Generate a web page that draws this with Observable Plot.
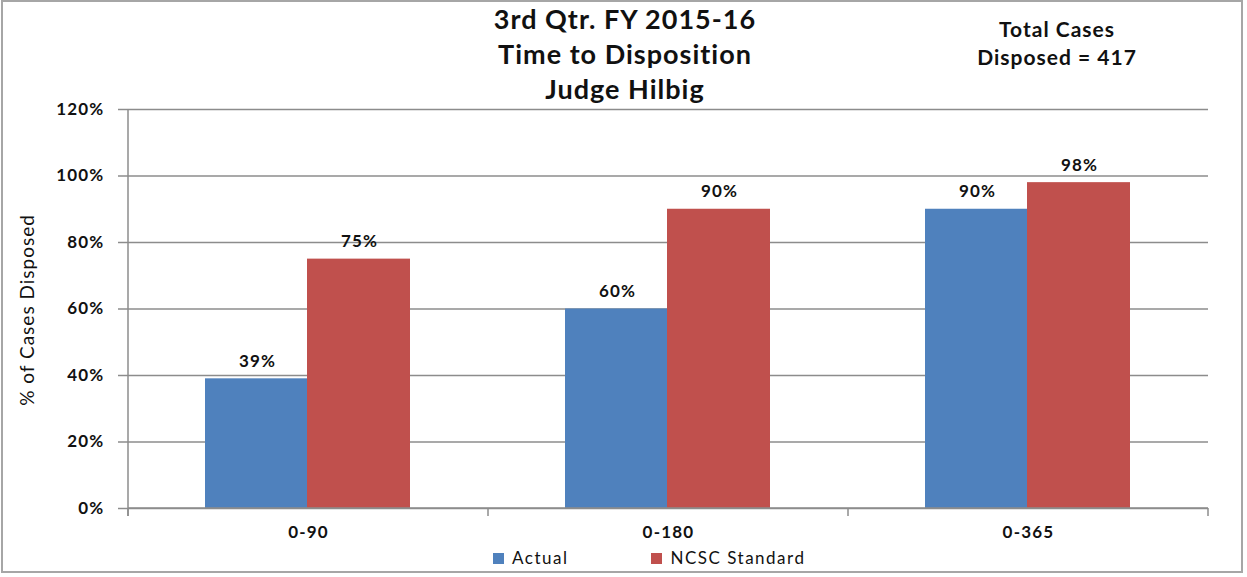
<!DOCTYPE html>
<html><head><meta charset="utf-8">
<script src="https://cdn.jsdelivr.net/npm/d3@7"></script>
<script src="https://cdn.jsdelivr.net/npm/@observablehq/plot@0.6"></script>
<style>
body{margin:0;background:#fff;}
#wrap{position:relative;width:1247px;height:577px;overflow:hidden;font-family:Lato,"Open Sans",sans-serif;color:#111;background:#fff;}
#chart{position:absolute;left:0;top:0;}
#chart text{letter-spacing:1.2px;}
#border{position:absolute;left:1px;top:0px;width:1242px;height:573px;border:2px solid #a6a6a6;box-sizing:border-box;pointer-events:none;}
#title{position:absolute;left:425px;width:400px;top:1px;text-align:center;font-weight:bold;font-size:27px;line-height:35px;letter-spacing:1px;}
#total{position:absolute;left:957px;width:200px;top:15px;text-align:center;font-weight:bold;font-size:21px;line-height:28px;letter-spacing:1px;}
#ytitle{position:absolute;left:26px;top:310px;transform:translate(-50%,-50%) rotate(-90deg);white-space:nowrap;font-size:19px;letter-spacing:1px;}
#legend{position:absolute;left:493px;top:546px;display:flex;gap:83px;font-size:17px;line-height:24px;letter-spacing:1.5px;}
#legend .item{display:flex;align-items:center;}
#legend .sw{width:11px;height:11px;margin-right:8px;}
</style></head><body>
<div id="wrap">
 <div id="chart"></div>
 <div id="title">3rd Qtr. FY 2015-16<br>Time to Disposition<br>Judge Hilbig</div>
 <div id="total">Total Cases<br>Disposed = 417</div>
 <div id="ytitle">% of Cases Disposed</div>
 <div id="legend"></div>
 <div id="border"></div>
</div>
<script>
const categories = ["0-90", "0-180", "0-365"];
const seriesNames = ["Actual", "NCSC Standard"];
const actual = [39, 60, 90];
const ncscStandard = [75, 90, 98];
const yTicks = [0, 20, 40, 60, 80, 100, 120];
const seriesColors = ["#4f81bd", "#c0504d"];

const rowsActual = categories.map((c, i) => ({category: c, series: seriesNames[0], value: actual[i]}));
const rowsNcsc = categories.map((c, i) => ({category: c, series: seriesNames[1], value: ncscStandard[i]}));

const gridColor = "#8c8c8c";

const axisLines = (index, scales, values, dims) => {
  const x = scales.x, y = scales.y;
  const step = x(categories[1]) - x(categories[0]);
  const bounds = categories.map(c => x(c)).concat([x(categories[categories.length - 1]) + step]);
  const g = d3.create("svg:g").attr("stroke", gridColor).attr("stroke-width", 1.5).attr("fill", "none");
  const x0 = bounds[0], x1 = bounds[bounds.length - 1];
  g.append("line").attr("x1", x0).attr("x2", x0).attr("y1", y(yTicks[yTicks.length - 1])).attr("y2", y(0) + 8);
  g.append("line").attr("x1", x0).attr("x2", x1).attr("y1", y(0)).attr("y2", y(0));
  for (const b of bounds) g.append("line").attr("x1", b).attr("x2", b).attr("y1", y(0)).attr("y2", y(0) + 8);
  return g.node();
};

const chart = Plot.plot({
  width: 1247,
  height: 577,
  marginLeft: 127,
  marginRight: 39,
  marginTop: 109,
  marginBottom: 69,
  style: {fontFamily: "Lato, 'Open Sans', sans-serif", background: "transparent", overflow: "visible", color: "#111"},
  x: {type: "band", domain: categories, paddingInner: 0, paddingOuter: 0},
  y: {domain: [0, 120]},
  marks: [
    Plot.gridY(yTicks, {stroke: gridColor, strokeOpacity: 1, strokeWidth: 1.5}),
    Plot.barY(rowsActual, {x: "category", y: "value", fill: seriesColors[0], insetLeft: 77, insetRight: 181}),
    Plot.barY(rowsNcsc, {x: "category", y: "value", fill: seriesColors[1], insetLeft: 179, insetRight: 78}),
    Plot.text(rowsActual, {x: "category", y: "value", text: d => d.value + "%", dx: -51, dy: -12, lineAnchor: "bottom", fontWeight: "bold", fontSize: 17, fill: "#111"}),
    Plot.text(rowsNcsc, {x: "category", y: "value", text: d => d.value + "%", dx: 51, dy: -12, lineAnchor: "bottom", fontWeight: "bold", fontSize: 17, fill: "#111"}),
    axisLines,
    Plot.axisY(yTicks, {tickFormat: d => d + "%", tickSize: 9, tickPadding: 14, fontSize: 17, fontWeight: "bold", stroke: gridColor, strokeWidth: 1.5, fill: "#111", label: null}),
    Plot.axisX({tickSize: 0, tickPadding: 17, fontSize: 17, fontWeight: "bold", fill: "#111", label: null})
  ]
});
document.getElementById("chart").appendChild(chart);

const legend = document.getElementById("legend");
seriesNames.forEach((name, i) => {
  const item = document.createElement("div");
  item.className = "item";
  const sw = document.createElement("span");
  sw.className = "sw";
  sw.style.background = seriesColors[i];
  const t = document.createElement("span");
  t.textContent = name;
  item.appendChild(sw);
  item.appendChild(t);
  legend.appendChild(item);
});
</script>
</body></html>
